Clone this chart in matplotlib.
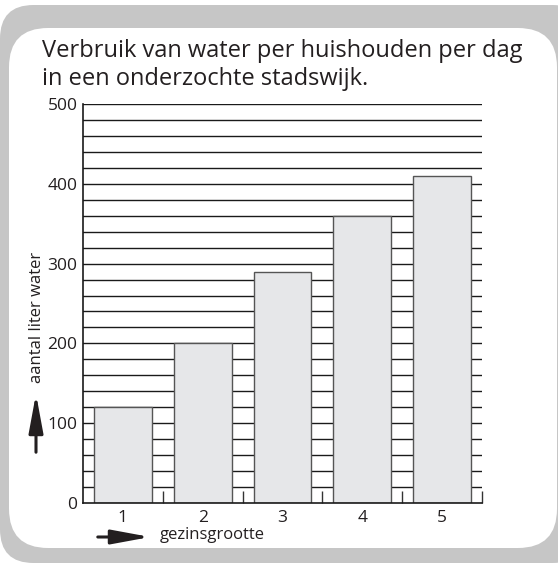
import matplotlib.pyplot as plt
from matplotlib.patches import FancyBboxPatch, FancyArrowPatch
import numpy as np

plt.rcParams['font.family'] = ['Open Sans', 'DejaVu Sans']

gezinsgrootte = [1, 2, 3, 4, 5]
liters = [120, 200, 290, 360, 410]
y_ticks = [0, 100, 200, 300, 400, 500]
grid_lines = np.arange(20, 501, 20)

fig = plt.figure(figsize=(5.58, 5.63), dpi=100)

# grey frame with white rounded panel
fig.patches.append(FancyBboxPatch((0.0, 0.0), 1.05, 1 - 5/563, boxstyle="round,pad=0,rounding_size=0.06",
                                  transform=fig.transFigure, facecolor='#c6c6c6', edgecolor='none', zorder=-2))
fig.patches.append(FancyBboxPatch((9/558, 1 - 548/563), 548/558, 520/563, boxstyle="round,pad=0,rounding_size=0.07",
                                  transform=fig.transFigure, facecolor='white', edgecolor='none', zorder=-1))

ax = fig.add_axes([83/558, 1 - 503/563, 399/558, 399/563])
ax.set_facecolor('none')

for g in grid_lines:
    ax.axhline(g, color='#1a1a1a', lw=1.0, zorder=1)

ax.bar(gezinsgrootte, liters, width=0.725, color='#e6e7e9', edgecolor='#555555', lw=1.0, zorder=2)

ax.set_xlim(0.5, 5.5)
ax.set_ylim(0, 500)
ax.set_yticks(y_ticks)
ax.set_xticks(gezinsgrootte)
ax.tick_params(axis='both', length=0, labelsize=12.5, colors='#231f20')
ax.tick_params(axis='y', pad=4)
ax.tick_params(axis='x', pad=5)
ax.set_xticks([1.5, 2.5, 3.5, 4.5, 5.5], minor=True)
ax.tick_params(axis='x', which='minor', direction='in', length=9, width=1.0, color='#333333')

for s in ['top', 'right']:
    ax.spines[s].set_visible(False)
for s in ['left', 'bottom']:
    ax.spines[s].set_color('#1a1a1a')
    ax.spines[s].set_linewidth(1.2)

fig.text(42/558, 1 - 57/563, 'Verbruik van water per huishouden per dag',
         fontsize=17, color='#231f20', va='baseline', ha='left')
fig.text(42/558, 1 - 85/563, 'in een onderzochte stadswijk.',
         fontsize=17, color='#231f20', va='baseline', ha='left')

fig.text(37/558, 1 - 317/563, 'aantal liter water', rotation=90, fontsize=12,
         color='#231f20', ha='center', va='center')
fig.text(160/558, 1 - 535/563, 'gezinsgrootte', fontsize=12, color='#231f20', ha='left', va='center')

arrow = dict(arrowstyle='-|>,head_length=1.3,head_width=0.24', color='#231f20', lw=2.2)
fig.add_artist(FancyArrowPatch((36/558, 1 - 455/563), (36/558, 1 - 391/563),
               transform=fig.transFigure, mutation_scale=18, **arrow))
fig.add_artist(FancyArrowPatch((95/558, 1 - 537/563), (153/558, 1 - 537/563),
               transform=fig.transFigure, mutation_scale=18, **arrow))

fig.savefig('out.png', dpi=100)
